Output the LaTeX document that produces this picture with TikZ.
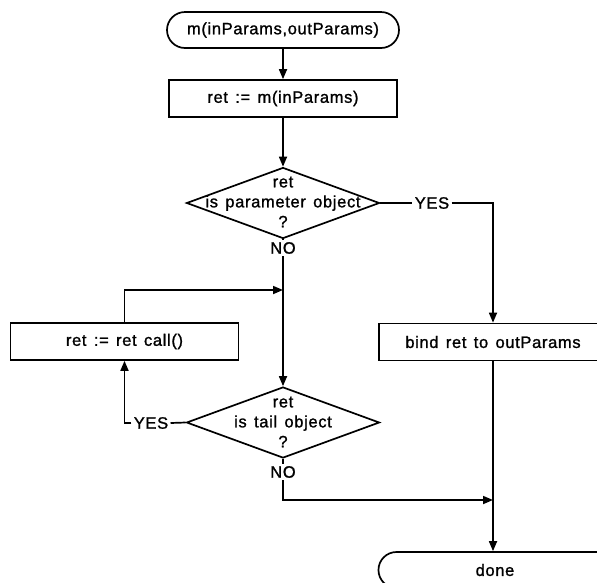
\documentclass[tikz,border=0pt]{standalone}
\usepackage{fontspec}
\setmainfont[LetterSpace=4,WordSpace=1.4,FakeBold=1.2]{Liberation Sans}
\usetikzlibrary{shapes.misc,shapes.geometric,arrows.meta}
\begin{document}
\begin{tikzpicture}[x=1pt,y=-1pt,line width=1.7pt,
  font=\fontsize{16.5}{20}\selectfont,
  terminal/.style={draw, rounded rectangle, minimum width=232pt, minimum height=36pt, inner sep=0pt},
  process/.style={draw, rectangle, minimum width=228pt, minimum height=37pt, inner sep=0pt},
  decision/.style={draw, diamond, minimum width=193pt, minimum height=71pt, inner sep=0pt},
  caption/.style={align=center, inner sep=0pt},
  tag/.style={inner sep=1.5pt},
  flow/.style={-{Triangle[length=10pt,width=8pt]}}]
\useasboundingbox (0,0) rectangle (597,582);
\clip (0,0) rectangle (597,582);

% main column
\node[terminal] (start) at (283,30) {m(inParams,outParams)};
\node[process] (init) at (283,98.5) {ret := m(inParams)};
\node[decision] (isparam) at (283,203) {};
\node[caption] (isparamtxt) at (283,202) {ret\\is parameter object\\?};
\node[tag] (yes1) at (432,203) {YES};
\node[tag] (no1) at (283,248) {NO};

% tail-call loop
\node[process] (call) at (124.5,341.5) {ret := ret call()};
\node[decision] (istail) at (283,422.5) {};
\node[caption] (istailtxt) at (283,422) {ret\\is tail object\\?};
\node[tag] (yes2) at (151,423) {YES};
\node[tag] (no2) at (283,472) {NO};

% right column
\node[process] (bind) at (493,342) {bind ret to outParams};
\node[terminal, rounded rectangle east arc=none] (done) at (495,570) {done};

\coordinate (loopin) at (283,290);
\coordinate (merge) at (493,500);

% connectors
\draw[flow] (start) -- (init);
\draw[flow] (init) -- (isparam);
\draw (isparam.east) -- (yes1.west);
\draw[flow] (yes1.east) -| (bind.north);
\draw (isparam.south) -- (no1.north);
\draw[flow] (no1.south) -- (istail.north);
\draw[flow] (call.north) |- (loopin);
\draw (istail.west) -- (yes2.east);
\draw[flow] (yes2.west) -| (call.south);
\draw (istail.south) -- (no2.north);
\draw[flow] (no2.south) |- (merge);
\draw[flow] (bind) -- (done.north -| bind);
\end{tikzpicture}
\end{document}
